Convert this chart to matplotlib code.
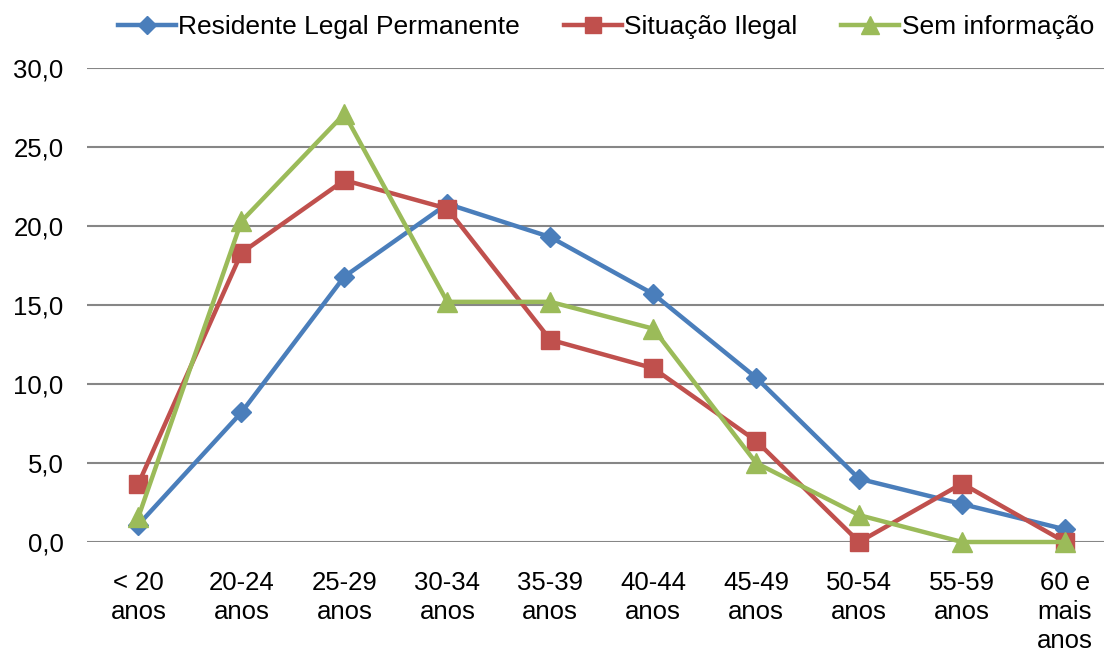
import matplotlib
matplotlib.use("Agg")
import matplotlib.pyplot as plt
from matplotlib.ticker import FuncFormatter

categories = ["< 20\nanos", "20-24\nanos", "25-29\nanos", "30-34\nanos", "35-39\nanos",
              "40-44\nanos", "45-49\nanos", "50-54\nanos", "55-59\nanos", "60 e\nmais\nanos"]
residente = [1.1, 8.2, 16.8, 21.4, 19.3, 15.7, 10.4, 4.0, 2.4, 0.8]
ilegal = [3.7, 18.3, 22.9, 21.1, 12.8, 11.0, 6.4, 0.0, 3.7, 0.0]
sem_info = [1.6, 20.3, 27.1, 15.2, 15.2, 13.5, 5.0, 1.7, 0.0, 0.0]
series_names = ["Residente Legal Permanente", "Situação Ilegal", "Sem informação"]
yticks = [0, 5, 10, 15, 20, 25, 30]

plt.rcParams['font.family'] = ['Liberation Sans', 'DejaVu Sans']
FS = 18.5

fig = plt.figure(figsize=(11.04, 6.53), dpi=100)
ax = fig.add_axes([87 / 1104, 111 / 653, 1029.5 / 1104, 474 / 653])

x = list(range(len(categories)))
styles = [
    (residente, "#4A7EBB", "D", 10.5),
    (ilegal, "#C0504D", "s", 13),
    (sem_info, "#9BBB59", "^", 14),
]
handles = []
for (vals, col, mk, ms), name in zip(styles, series_names):
    h, = ax.plot(x, vals, color=col, lw=3.2, marker=mk, markersize=ms,
                 markerfacecolor=col, markeredgecolor=col, markeredgewidth=1,
                 label=name, zorder=3, clip_on=False)
    handles.append(h)

ax.set_xlim(-0.5, len(categories) - 0.5)
ax.set_ylim(0, 30)
ax.set_yticks(yticks)
ax.yaxis.set_major_formatter(FuncFormatter(lambda v, p: f"{v:.1f}".replace(".", ",")))
ax.set_xticks(x)
ax.set_xticklabels(categories, fontsize=FS, linespacing=1.25, va="top")
ax.tick_params(axis="y", labelsize=FS, length=0, pad=17)
ax.tick_params(axis="x", length=0, pad=21)
for s in ax.spines.values():
    s.set_visible(False)
ax.grid(axis="y", color="#868686", lw=1.5, zorder=0)
ax.set_axisbelow(True)

fig.legend(handles=handles, loc="center", bbox_to_anchor=(606 / 1104, 1 - 27 / 653),
           ncol=3, frameon=False, fontsize=19, handlelength=2.2, handletextpad=0.1,
           columnspacing=1.65, borderaxespad=0, borderpad=0, markerscale=0.9)

fig.savefig("out.png", dpi=100)
